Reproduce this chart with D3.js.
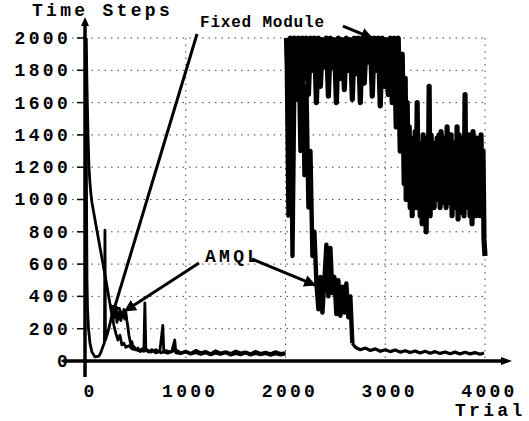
<!DOCTYPE html>
<html>
<head>
<meta charset="utf-8">
<script src="https://cdn.jsdelivr.net/npm/d3@7"></script>
<style>
  body { margin: 0; background: #fff; }
  svg { display: block; }
  .lbl { font-family: "Liberation Mono", "DejaVu Sans Mono", monospace; font-weight: bold; font-size: 18px; letter-spacing: 3.3px; fill: #000; }
  .note { font-family: "Liberation Mono", "DejaVu Sans Mono", monospace; font-weight: bold; font-size: 16px; letter-spacing: 0.8px; fill: #000; }
  .grid { stroke: #444; stroke-width: 1; stroke-dasharray: 1.5,5; }
  .series { fill: none; stroke: #000; stroke-width: 2.8; stroke-linejoin: round; }
</style>
</head>
<body>
<div id="chart"></div>
<script>
// Axis Ticks
const xTicks = [0, 1000, 2000, 3000, 4000];
const yTicks = [0, 200, 400, 600, 800, 1000, 1200, 1400, 1600, 1800, 2000];

// Task 1 (trial, steps)
const fixedTask1 = [[0,2000],[5,1900],[10,1700],[20,1400],[30,1200],[40,1100],[50,1030],[60,980],
  [100,840],[150,670],[200,500],[230,390],[260,285],[280,220],[300,170],[320,130],[340,160],[360,100],
  [380,110],[400,85],[430,95],[460,75],[500,70],[550,60],[600,75],[650,55],[700,70],[750,50],[800,65],
  [850,55],[900,70],[950,50],[1000,62],[1050,48],[1100,66],[1150,52],[1200,60],[1250,45],[1300,64],
  [1350,50],[1400,58],[1450,47],[1500,62],[1550,50],[1600,57],[1650,45],[1700,60],[1750,48],[1800,55],
  [1850,46],[1900,58],[1950,47],[2000,52]];

const amqlTask1 = [[0,2000],[3,1400],[6,900],[10,500],[15,330],[25,200],[40,110],[60,55],[90,25],
  [130,30],[150,55],[170,90],[185,115],[190,810],[195,130],[220,180],[240,230],[260,285],[270,250],
  [280,320],[290,270],[300,310],[310,240],[320,300],[330,260],[340,320],[350,250],[360,300],[370,270],
  [380,320],[390,260],[400,300],[410,250],[420,210],[430,160],[440,130],[450,100],[460,120],[470,85],
  [480,90],[500,70],[520,80],[540,60],[560,75],[580,60],[590,360],[600,65],[630,55],[660,70],[700,50],
  [740,60],[770,220],[780,55],[820,48],[860,60],[890,130],[900,50],[950,45],[1000,55],[1050,42],
  [1100,52],[1150,40],[1200,50],[1250,38],[1300,48],[1350,40],[1400,50],[1450,36],[1500,46],[1550,38],
  [1600,48],[1650,36],[1700,45],[1750,38],[1800,46],[1850,35],[1900,44],[1950,36],[2000,42]];

// Task 2: dense noisy parts, one reading every 20 trials from trial 2010
const task2Start = 2010, task2Every = 20;
const fixedTask2 = [2000,1700,2000,1780,2000,1620,2000,1850,2000,1750,2000,1650,2000,1800,2000,1600,
  2000,1700,1990,1820,2000,1640,2000,1820,1990,1600,2000,1750,1990,1680,2000,1800,1990,1620,2000,1780,
  2000,1600,2000,1720,1990,1850,2000,1640,2000,1800,2000,1580,2000,1700,1990,1650,2000,1600,2000,1450,
  2000,1300,1900,1100];

const amqlTask2 = [2000,900,1950,650,1800,1700,2000,1300,1950,1150,1700,950,1300,650,800,480,320,520,300,
  500,720,400,700,420,520,290,500,280,460,300,480,270,400,110];

// Fixed Module after the drop, one reading every 10 trials from trial 3200
const lateStart = 3200, lateEvery = 10;
const fixedLate = [1750,1000,1600,1050,1450,950,1380,900,1350,980,
  1420,950,1600,1000,1350,900,1300,850,1400,900,
  1380,800,1350,950,1700,900,1400,1000,1350,950,
  1300,1050,1380,1000,1400,950,1420,980,1350,1000,
  1380,950,1450,1050,1350,980,1400,900,1300,950,
  1350,1000,1450,880,1400,950,1300,920,1380,900,
  1650,950,1350,980,1400,900,1350,850,1420,950,
  1300,900,1380,950,1350,900,1400,950,1300,750,650];

const amqlTail = [[2670,110],[2700,85],[2750,70],[2800,80],[2850,65],[2900,75],[2950,60],[3000,70],
  [3050,58],[3100,68],[3150,55],[3200,64],[3250,52],[3300,62],[3350,50],[3400,60],[3450,48],[3500,58],
  [3550,47],[3600,56],[3650,45],[3700,55],[3750,44],[3800,54],[3850,44],[3900,52],[3950,42],[3990,50]];

// Annotations (label anchor and arrows, in trial / steps)
const notes = [
  {text: "Fixed Module", at: [1143, 2068], arrows: [[[1113, 2025], [261, 279]], [[2576, 2074], [2867, 2000]]]},
  {text: "AMQL", at: [1193, 613], arrows: [[[1133, 607], [391, 310]], [[1664, 632], [2296, 470]]]}
];

// Dimensions and Margins
const margin = {top: 38, right: 44, bottom: 60, left: 86},
    width = 529 - margin.left - margin.right,
    height = 421 - margin.top - margin.bottom;

const root = d3.select("#chart").append("svg")
    .attr("width", width + margin.left + margin.right)
    .attr("height", height + margin.top + margin.bottom);

root.append("defs").append("marker")
    .attr("id", "head")
    .attr("viewBox", "0 0 10 10")
    .attr("refX", 9).attr("refY", 5)
    .attr("markerWidth", 4).attr("markerHeight", 4)
    .attr("orient", "auto")
  .append("path")
    .attr("d", "M0,0L10,5L0,10z");

const svg = root.append("g")
    .attr("transform", "translate(" + margin.left + "," + margin.top + ")");

// Scales
const x = d3.scaleLinear().domain([0, 4000]).range([0, width]);
const y = d3.scaleLinear().domain([0, 2000]).range([height, 0]);

// Grid
svg.selectAll(".hgrid")
    .data(yTicks.filter(d => d > 0))
  .enter().append("line")
    .attr("class", "grid")
    .attr("x1", -14).attr("x2", width)
    .attr("y1", d => y(d)).attr("y2", d => y(d));
svg.selectAll(".vgrid")
    .data(xTicks.filter(d => d > 0))
  .enter().append("line")
    .attr("class", "grid")
    .attr("x1", d => x(d)).attr("x2", d => x(d))
    .attr("y1", 0).attr("y2", height);

// Axes
svg.append("g")
    .attr("transform", "translate(0," + height + ")")
    .call(d3.axisBottom(x).tickValues(xTicks).tickSize(0).tickFormat(d3.format("d")))
    .call(g => g.select(".domain").remove())
    .selectAll("text")
    .attr("class", "lbl")
    .attr("y", 36).attr("dy", null).attr("dx", 4);

svg.append("g")
    .call(d3.axisLeft(y).tickValues(yTicks).tickSize(0).tickPadding(15).tickFormat(d3.format("d")))
    .call(g => g.select(".domain").remove())
    .selectAll("text")
    .attr("class", "lbl")
    .attr("dy", "0.3em");

svg.selectAll(".ytick")
    .data(yTicks)
  .enter().append("line")
    .attr("x1", -9).attr("x2", 0)
    .attr("y1", d => y(d)).attr("y2", d => y(d))
    .style("stroke", "#000").style("stroke-width", 1.5);

// Axis lines with arrowheads
svg.append("line")
    .attr("x1", x(0) - 23).attr("x2", x(4000) + 20)
    .attr("y1", y(0)).attr("y2", y(0))
    .style("stroke", "#000").style("stroke-width", 3.5);
svg.append("path")
    .attr("d", `M${x(4000) + 16},${y(0) - 4}L${x(4000) + 27},${y(0)}L${x(4000) + 16},${y(0) + 4}z`);
svg.append("line")
    .attr("x1", x(0) - 1).attr("x2", x(0) - 1)
    .attr("y1", y(0) + 16).attr("y2", y(2000) - 14)
    .style("stroke", "#000").style("stroke-width", 3.5);
svg.append("path")
    .attr("d", `M${x(0) - 5},${y(2000) - 12}L${x(0) - 1},${y(2000) - 21}L${x(0) + 3},${y(2000) - 12}z`);

// Series
const line = d3.line().x(d => x(d[0])).y(d => y(d[1]));
const every = (vals, start, step) => vals.map((v, i) => [start + i * step, v]);

[fixedTask1, amqlTask1].forEach(s => {
  svg.append("path").attr("class", "series").attr("d", line(s));
});
svg.append("path").attr("class", "series").style("stroke-width", 3.2).attr("d", line(amqlTail));
svg.append("path").attr("class", "series").style("stroke-width", 5.2)
    .attr("d", line(every(fixedTask2, task2Start, task2Every).concat(every(fixedLate, lateStart, lateEvery))));
svg.append("path").attr("class", "series").style("stroke-width", 4.4)
    .attr("d", line(every(amqlTask2, task2Start, task2Every)));

// Annotations
notes.forEach(n => {
  svg.append("text")
      .attr("class", n.text === "AMQL" ? "lbl" : "note")
      .attr("x", x(n.at[0])).attr("y", y(n.at[1]))
      .text(n.text);
  n.arrows.forEach(a => {
    svg.append("line")
        .attr("x1", x(a[0][0])).attr("y1", y(a[0][1]))
        .attr("x2", x(a[1][0])).attr("y2", y(a[1][1]))
        .attr("marker-end", "url(#head)")
        .style("stroke", "#000").style("stroke-width", 3);
  });
});

// Axis Titles
root.append("text").attr("class", "lbl").attr("x", 32).attr("y", 16).text("Time Steps");
root.append("text").attr("class", "lbl").attr("x", 455).attr("y", 416).text("Trial");
</script>
</body>
</html>
